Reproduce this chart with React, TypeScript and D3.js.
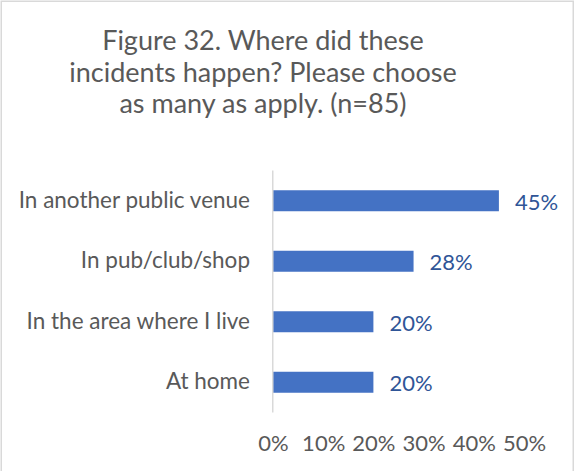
import { scaleLinear, scaleBand, select, axisBottom, format } from 'd3';
import { useEffect, useRef } from 'react';

const titleLines = [
  'Figure 32. Where did these',
  'incidents happen? Please choose',
  'as many as apply. (n=85)',
];
const categories = [
  'In another public venue',
  'In pub/club/shop',
  'In the area where I live',
  'At home',
];
const values = [0.45, 0.28, 0.2, 0.2];
const xTicks = [0, 0.1, 0.2, 0.3, 0.4, 0.5];

const WIDTH = 575;
const HEIGHT = 471;
const FONT = 'Lato, "Open Sans", sans-serif';

const App = () => {
  const svgElem = useRef<SVGSVGElement>(null);

  useEffect(() => {
    if (!svgElem.current) {
      return;
    }
    const svg = select(svgElem.current);
    svg.selectAll('*').remove();

    // plot area
    const MARGINS = { top: 170.5, right: 51, bottom: 58.5, left: 273 };

    const xScale = scaleLinear()
      .domain([0, 0.5])
      .range([MARGINS.left, WIDTH - MARGINS.right]);
    const yScale = scaleBand()
      .domain(categories)
      .range([MARGINS.top, HEIGHT - MARGINS.bottom])
      .paddingInner(0.653)
      .paddingOuter(0.3265);

    // chart frame
    svg
      .append('rect')
      .attr('x', 1.25)
      .attr('y', 1.25)
      .attr('width', WIDTH - 3)
      .attr('height', HEIGHT + 10)
      .attr('fill', '#fff')
      .attr('stroke', '#d9d9d9')
      .attr('stroke-width', 1.5);

    // title
    svg
      .append('text')
      .attr('text-anchor', 'middle')
      .attr('fill', '#595959')
      .style('font-family', FONT)
      .style('font-size', '27px')
      .selectAll('tspan')
      .data(titleLines)
      .join('tspan')
      .attr('x', 263)
      .attr('y', (_, i) => 50 + i * 31.6)
      .text((d) => d);

    // bars
    svg
      .append('g')
      .selectAll('rect')
      .data(values)
      .join('rect')
      .attr('x', xScale(0))
      .attr('y', (_, i) => yScale(categories[i]) ?? 0)
      .attr('width', (d) => xScale(d) - xScale(0))
      .attr('height', yScale.bandwidth())
      .attr('fill', '#4472c4');

    // vertical axis line
    svg
      .append('line')
      .attr('x1', xScale(0) - 0.25)
      .attr('x2', xScale(0) - 0.25)
      .attr('y1', MARGINS.top)
      .attr('y2', HEIGHT - MARGINS.bottom)
      .attr('stroke', '#d9d9d9')
      .attr('stroke-width', 1.5);

    // category labels
    svg
      .append('g')
      .selectAll('text')
      .data(categories)
      .join('text')
      .attr('x', 250)
      .attr('y', (d) => (yScale(d) ?? 0) + yScale.bandwidth() / 2 + 7)
      .attr('text-anchor', 'end')
      .attr('fill', '#595959')
      .style('font-family', FONT)
      .style('font-size', '22.5px')
      .text((d) => d);

    // data labels
    svg
      .append('g')
      .selectAll('text')
      .data(values)
      .join('text')
      .attr('x', (d) => xScale(d) + 16)
      .attr('y', (_, i) => (yScale(categories[i]) ?? 0) + yScale.bandwidth() / 2 + 9)
      .attr('fill', '#2f5597')
      .style('font-family', FONT)
      .style('font-size', '22px')
      .text((d) => format('.0%')(d));

    // x axis labels only
    const xAxis = axisBottom(xScale)
      .tickValues(xTicks)
      .tickSize(0)
      .tickPadding(0)
      .tickFormat((d) => format('.0%')(d as number));
    const axisG = svg
      .append('g')
      .attr('transform', `translate(0, 451)`)
      // @ts-expect-error: d3 types
      .call(xAxis);
    axisG.select('.domain').remove();
    axisG
      .selectAll('text')
      .attr('dy', 0)
      .attr('y', 0)
      .attr('fill', '#595959')
      .style('font-family', FONT)
      .style('font-size', '22px');
  }, [svgElem]);

  return (
    <svg
      ref={svgElem}
      width={WIDTH}
      height={HEIGHT}
      style={{ position: 'absolute', left: 0, top: 0, background: '#fff' }}
    />
  );
};

export default App;
